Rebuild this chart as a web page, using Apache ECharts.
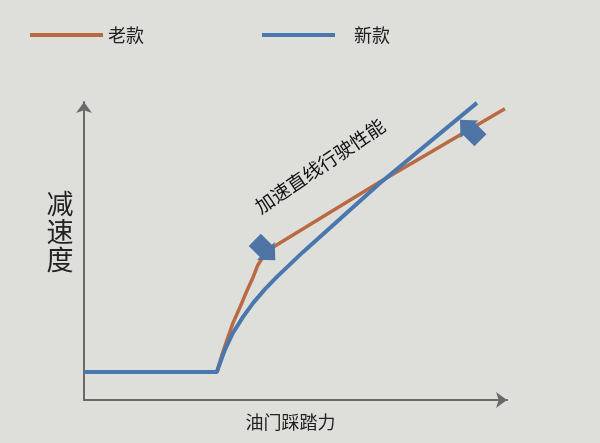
<!DOCTYPE html>
<html>
<head>
<meta charset="utf-8">
<script src="https://cdn.jsdelivr.net/npm/echarts@6/dist/echarts.min.js"></script>
<style>
html, body { margin: 0; padding: 0; background: #dededa; }
#main { width: 600px; height: 443px; }
</style>
</head>
<body>
<div id="main"></div>
<script>
var seriesNames = ['老款', '新款'];
// [油门踩踏力, 减速度], arbitrary 0-100 units
var oldData = [
    [0, 9.4], [31.4, 9.4], [32.6, 15.1], [33.8, 20.1], [35.2, 25.8],
    [36.9, 31.2], [38.5, 36.6], [40.0, 41.3], [41.1, 45.3], [42.8, 49.0],
    [44.4, 51.0], [46.3, 52.7], [70.0, 73.2], [99.5, 97.7]
];
var newData = [
    [0, 9.4], [31.4, 9.4], [33.3, 16.8], [35.2, 22.5], [37.6, 27.9],
    [40.0, 32.6], [42.8, 37.2], [45.6, 41.3], [51.8, 49.7], [70.0, 72.8],
    [92.9, 99.7]
];
// block arrows marking the range: [x, y, rotate]
var arrowMarks = [[42.8, 50.3, -135], [91.3, 90.6, 45]];
var xName = '油门踩踏力';
var yName = '减速度';
var noteText = '加速直线行驶性能';

var FONT = '"Noto Sans CJK SC", sans-serif';
var arrowPath = 'path://M11,0 L22,12 L18.5,12 L18.5,26 L3.5,26 L3.5,12 L0,12 Z';

var myChart = echarts.init(document.getElementById('main'));

var axisCommon = {
    type: 'value',
    min: 0,
    max: 100,
    axisLine: {
        show: true,
        symbol: ['none', 'arrow'],
        symbolSize: [12, 11],
        lineStyle: { color: '#6a6a6a', width: 2 }
    },
    axisTick: { show: false },
    axisLabel: { show: false },
    splitLine: { show: false }
};

var option = {
    backgroundColor: '#dededa',
    animation: false,
    textStyle: { fontFamily: FONT },
    legend: {
        left: 25,
        top: 21,
        icon: 'rect',
        itemWidth: 73,
        itemHeight: 4,
        itemGap: 118,
        textStyle: { fontSize: 18, color: '#222', fontFamily: FONT },
        data: [
            { name: seriesNames[0] },
            { name: seriesNames[1], textStyle: { padding: [0, 0, 0, 14] } }
        ]
    },
    grid: { left: 84, right: 93, top: 102, bottom: 43 },
    xAxis: Object.assign({}, axisCommon, {
        name: xName,
        nameLocation: 'middle',
        nameGap: 13,
        nameTextStyle: { fontSize: 18, color: '#222', fontFamily: FONT, padding: [0, 10, 0, 0] }
    }),
    yAxis: Object.assign({}, axisCommon),
    graphic: [{
        type: 'text',
        x: 320,
        y: 166,
        rotation: 34 * Math.PI / 180,
        style: {
            text: noteText,
            fontSize: 19,
            fontFamily: FONT,
            fill: '#111',
            align: 'center',
            verticalAlign: 'middle'
        }
    }, {
        type: 'text',
        x: 60,
        y: 232,
        style: {
            text: yName.split('').join('\n'),
            fontSize: 27,
            lineHeight: 28,
            fontFamily: FONT,
            fill: '#222',
            align: 'center',
            verticalAlign: 'middle'
        }
    }],
    series: [{
        name: seriesNames[0],
        type: 'line',
        data: oldData,
        showSymbol: false,
        color: '#b96a43',
        lineStyle: { width: 3.5, color: '#b96a43' },
        z: 2
    }, {
        name: seriesNames[1],
        type: 'line',
        data: newData,
        showSymbol: false,
        color: '#4a77ae',
        lineStyle: { width: 4, color: '#4a77ae' },
        z: 3,
        markPoint: {
            symbol: arrowPath,
            symbolSize: [25, 29],
            silent: true,
            label: { show: false },
            itemStyle: { color: '#4e74a6' },
            data: arrowMarks.map(function(a) {
                return { coord: [a[0], a[1]], symbolRotate: a[2] };
            })
        }
    }]
};
myChart.setOption(option);
</script>
</body>
</html>
